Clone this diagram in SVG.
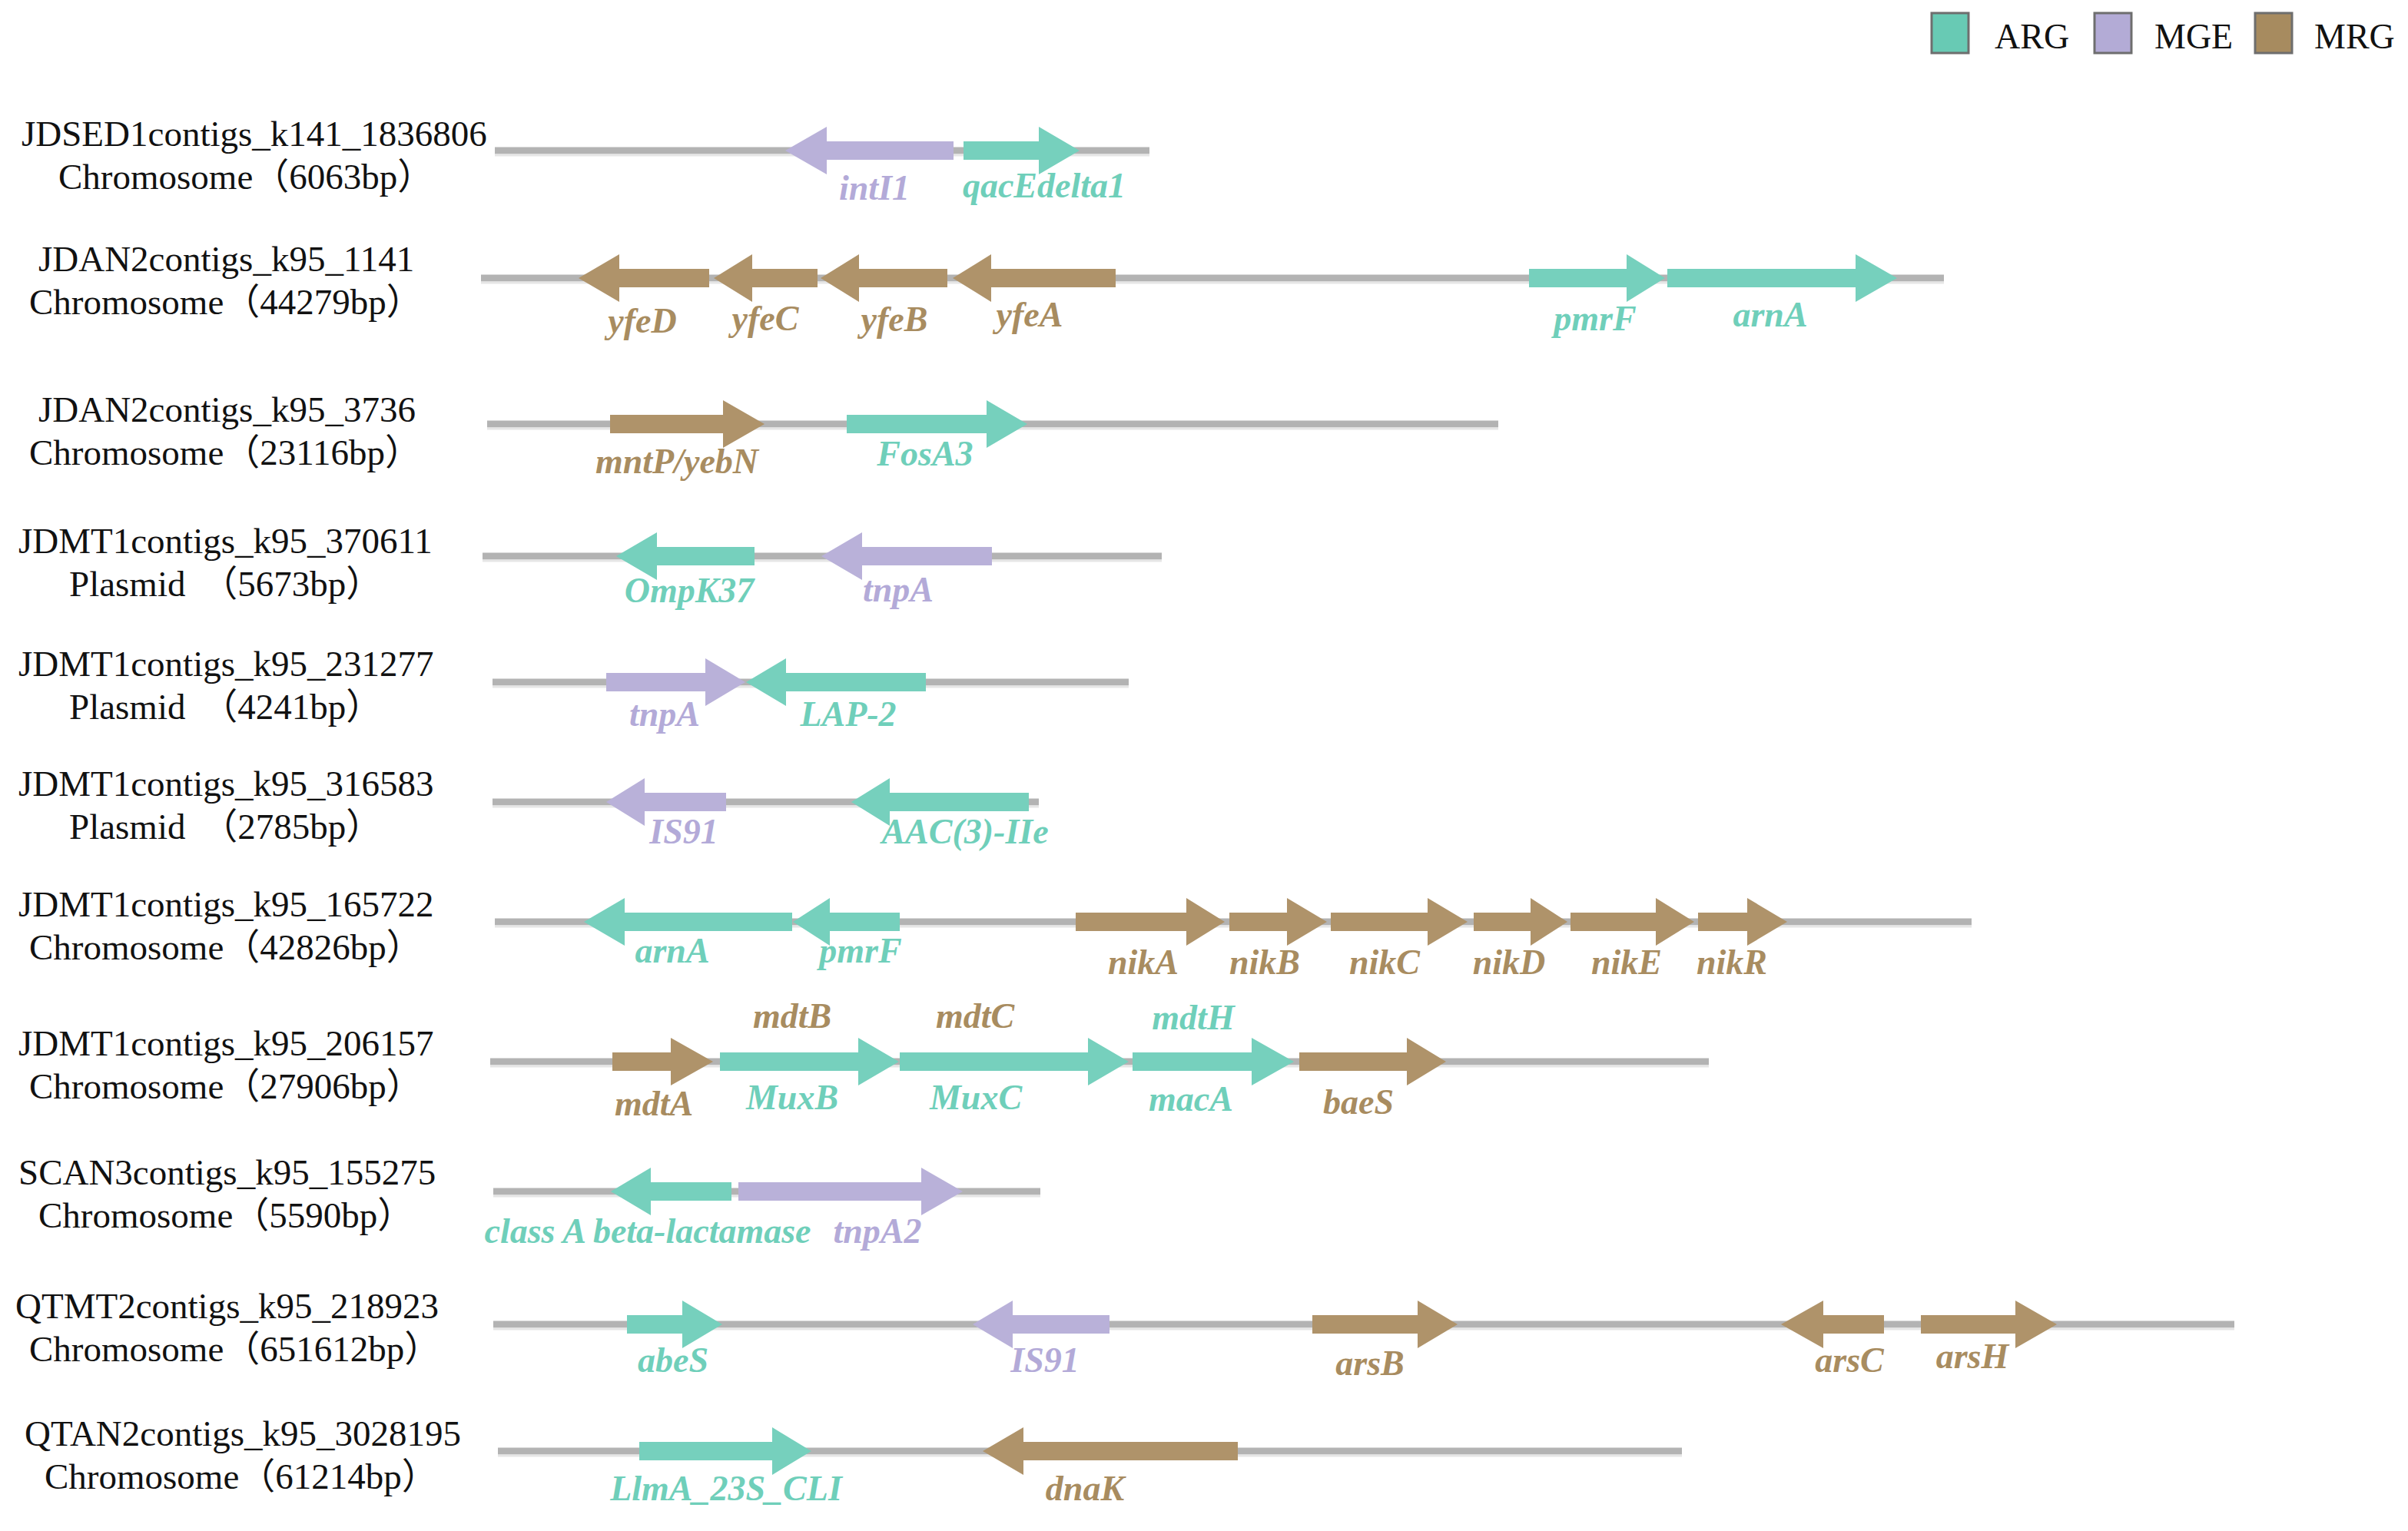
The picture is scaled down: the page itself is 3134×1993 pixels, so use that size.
<svg xmlns="http://www.w3.org/2000/svg" width="3134" height="1993" viewBox="0 0 3134 1993">
<style>
.bg{fill:#ffffff}
.ln{stroke:#b3b3b3;stroke-width:9;fill:none}
.ln2{stroke:#e6e6e6;stroke-width:3;fill:none}
.arg{fill:#76d0bd}
.mge{fill:#b9b1d9}
.mrg{fill:#af936a}
.t{font-family:'Liberation Serif','Noto Sans CJK SC',serif;font-size:47px;fill:#111111}
.lg{font-family:'Liberation Serif',serif;font-size:46px;fill:#111111}
.g{font-family:'Liberation Serif',serif;font-size:46px;font-style:italic;font-weight:bold;text-anchor:middle}
.ga{fill:#6fcfba}
.gm{fill:#b3aad8}
.gr{fill:#a88c60}
.lb{stroke:#6e6e6e;stroke-width:3}
</style>
<rect class="bg" x="0" y="0" width="3134" height="1993"/>

<g id="legend">
  <rect class="lb" x="2514" y="17" width="48" height="52" fill="#68cab4"/>
  <text class="lg" x="2596" y="63">ARG</text>
  <rect class="lb" x="2726" y="17" width="48" height="52" fill="#b3abd6"/>
  <text class="lg" x="2804" y="63">MGE</text>
  <rect class="lb" x="2935" y="17" width="48" height="52" fill="#a78b5f"/>
  <text class="lg" x="3012" y="63">MRG</text>
</g>

<g id="connectors"></g>

<g id="row1">
  <text class="t" x="28" y="190">JDSED1contigs_k141_1836806</text>
  <text class="t" x="76" y="246">Chromosome（6063bp）</text>
  <line class="ln" x1="644" y1="196" x2="1496" y2="196"/>
  <line class="ln2" x1="644" y1="202" x2="1496" y2="202"/>
  <polygon class="mge" points="1241,184 1076,184 1076,165 1022,196 1076,227 1076,208 1241,208"/>
  <polygon class="arg" points="1254,184 1352,184 1352,165 1405,196 1352,227 1352,208 1254,208"/>
  <text class="g gm" x="1138" y="260">intI1</text>
  <text class="g ga" x="1359" y="257">qacEdelta1</text>
</g>

<g id="row2">
  <text class="t" x="50" y="353">JDAN2contigs_k95_1141</text>
  <text class="t" x="38" y="409">Chromosome（44279bp）</text>
  <line class="ln" x1="626" y1="362" x2="2530" y2="362"/>
  <line class="ln2" x1="626" y1="368" x2="2530" y2="368"/>
  <polygon class="mrg" points="923,350 806,350 806,331 753,362 806,393 806,374 923,374"/>
  <polygon class="mrg" points="1064,350 979,350 979,331 929,362 979,393 979,374 1064,374"/>
  <polygon class="mrg" points="1233,350 1118,350 1118,331 1068,362 1118,393 1118,374 1233,374"/>
  <polygon class="mrg" points="1452,350 1290,350 1290,331 1240,362 1290,393 1290,374 1452,374"/>
  <polygon class="arg" points="1990,350 2117,350 2117,331 2167,362 2117,393 2117,374 1990,374"/>
  <polygon class="arg" points="2170,350 2415,350 2415,331 2469,362 2415,393 2415,374 2170,374"/>
  <text class="g gr" x="836" y="433">yfeD</text>
  <text class="g gr" x="996" y="430">yfeC</text>
  <text class="g gr" x="1164" y="431">yfeB</text>
  <text class="g gr" x="1340" y="425">yfeA</text>
  <text class="g ga" x="2076" y="430">pmrF</text>
  <text class="g ga" x="2304" y="425">arnA</text>
</g>

<g id="row3">
  <text class="t" x="50" y="549">JDAN2contigs_k95_3736</text>
  <text class="t" x="38" y="605">Chromosome（23116bp）</text>
  <line class="ln" x1="634" y1="552" x2="1950" y2="552"/>
  <line class="ln2" x1="634" y1="558" x2="1950" y2="558"/>
  <polygon class="mrg" points="794,540 941,540 941,521 995,552 941,583 941,564 794,564"/>
  <polygon class="arg" points="1102,540 1284,540 1284,521 1337,552 1284,583 1284,564 1102,564"/>
  <text class="g gr" x="881" y="616">mntP/yebN</text>
  <text class="g ga" x="1204" y="606">FosA3</text>
</g>

<g id="row4">
  <text class="t" x="24" y="720">JDMT1contigs_k95_370611</text>
  <text class="t" x="90" y="776">Plasmid <tspan dx="9">（5673bp）</tspan></text>
  <line class="ln" x1="628" y1="724" x2="1512" y2="724"/>
  <line class="ln2" x1="628" y1="730" x2="1512" y2="730"/>
  <polygon class="arg" points="982,712 855,712 855,693 802,724 855,755 855,736 982,736"/>
  <polygon class="mge" points="1291,712 1122,712 1122,693 1069,724 1122,755 1122,736 1291,736"/>
  <text class="g ga" x="897" y="784">OmpK37</text>
  <text class="g gm" x="1169" y="783">tnpA</text>
</g>

<g id="row5">
  <text class="t" x="24" y="880">JDMT1contigs_k95_231277</text>
  <text class="t" x="90" y="936">Plasmid <tspan dx="9">（4241bp）</tspan></text>
  <line class="ln" x1="641" y1="888" x2="1469" y2="888"/>
  <line class="ln2" x1="641" y1="894" x2="1469" y2="894"/>
  <polygon class="mge" points="789,876 918,876 918,857 970,888 918,919 918,900 789,900"/>
  <polygon class="arg" points="1205,876 1023,876 1023,857 971,888 1023,919 1023,900 1205,900"/>
  <text class="g gm" x="865" y="945">tnpA</text>
  <text class="g ga" x="1104" y="945">LAP-2</text>
</g>

<g id="row6">
  <text class="t" x="24" y="1036">JDMT1contigs_k95_316583</text>
  <text class="t" x="90" y="1092">Plasmid <tspan dx="9">（2785bp）</tspan></text>
  <line class="ln" x1="641" y1="1044" x2="1352" y2="1044"/>
  <line class="ln2" x1="641" y1="1050" x2="1352" y2="1050"/>
  <polygon class="mge" points="945,1032 839,1032 839,1013 789,1044 839,1075 839,1056 945,1056"/>
  <polygon class="arg" points="1339,1032 1158,1032 1158,1013 1108,1044 1158,1075 1158,1056 1339,1056"/>
  <text class="g gm" x="890" y="1098">IS91</text>
  <text class="g ga" x="1256" y="1098">AAC(3)-IIe</text>
</g>

<g id="row7">
  <text class="t" x="24" y="1193">JDMT1contigs_k95_165722</text>
  <text class="t" x="38" y="1249">Chromosome（42826bp）</text>
  <line class="ln" x1="644" y1="1200" x2="2566" y2="1200"/>
  <line class="ln2" x1="644" y1="1206" x2="2566" y2="1206"/>
  <polygon class="arg" points="1031,1188 813,1188 813,1169 760,1200 813,1231 813,1212 1031,1212"/>
  <polygon class="arg" points="1171,1188 1080,1188 1080,1169 1032,1200 1080,1231 1080,1212 1171,1212"/>
  <polygon class="mrg" points="1400,1188 1544,1188 1544,1169 1594,1200 1544,1231 1544,1212 1400,1212"/>
  <polygon class="mrg" points="1600,1188 1675,1188 1675,1169 1727,1200 1675,1231 1675,1212 1600,1212"/>
  <polygon class="mrg" points="1732,1188 1858,1188 1858,1169 1910,1200 1858,1231 1858,1212 1732,1212"/>
  <polygon class="mrg" points="1918,1188 1992,1188 1992,1169 2040,1200 1992,1231 1992,1212 1918,1212"/>
  <polygon class="mrg" points="2044,1188 2155,1188 2155,1169 2205,1200 2155,1231 2155,1212 2044,1212"/>
  <polygon class="mrg" points="2210,1188 2274,1188 2274,1169 2326,1200 2274,1231 2274,1212 2210,1212"/>
  <text class="g ga" x="875" y="1253">arnA</text>
  <text class="g ga" x="1120" y="1253">pmrF</text>
  <text class="g gr" x="1488" y="1268">nikA</text>
  <text class="g gr" x="1646" y="1268">nikB</text>
  <text class="g gr" x="1802" y="1268">nikC</text>
  <text class="g gr" x="1964" y="1268">nikD</text>
  <text class="g gr" x="2117" y="1268">nikE</text>
  <text class="g gr" x="2254" y="1268">nikR</text>
</g>

<g id="row8">
  <text class="t" x="24" y="1374">JDMT1contigs_k95_206157</text>
  <text class="t" x="38" y="1430">Chromosome（27906bp）</text>
  <line class="ln" x1="638" y1="1382" x2="2224" y2="1382"/>
  <line class="ln2" x1="638" y1="1388" x2="2224" y2="1388"/>
  <polygon class="mrg" points="797,1370 873,1370 873,1351 928,1382 873,1413 873,1394 797,1394"/>
  <polygon class="arg" points="937,1370 1117,1370 1117,1351 1170,1382 1117,1413 1117,1394 937,1394"/>
  <polygon class="arg" points="1171,1370 1416,1370 1416,1351 1469,1382 1416,1413 1416,1394 1171,1394"/>
  <polygon class="arg" points="1474,1370 1629,1370 1629,1351 1684,1382 1629,1413 1629,1394 1474,1394"/>
  <polygon class="mrg" points="1691,1370 1831,1370 1831,1351 1882,1382 1831,1413 1831,1394 1691,1394"/>
  <text class="g gr" x="1031" y="1338">mdtB</text>
  <text class="g gr" x="1269" y="1338">mdtC</text>
  <text class="g ga" x="1553" y="1340">mdtH</text>
  <text class="g gr" x="851" y="1452">mdtA</text>
  <text class="g ga" x="1031" y="1444">MuxB</text>
  <text class="g ga" x="1270" y="1444">MuxC</text>
  <text class="g ga" x="1550" y="1446">macA</text>
  <text class="g gr" x="1768" y="1450">baeS</text>
</g>

<g id="row9">
  <text class="t" x="24" y="1542">SCAN3contigs_k95_155275</text>
  <text class="t" x="50" y="1598">Chromosome（5590bp）</text>
  <line class="ln" x1="642" y1="1551" x2="1354" y2="1551"/>
  <line class="ln2" x1="642" y1="1557" x2="1354" y2="1557"/>
  <polygon class="arg" points="952,1539 847,1539 847,1520 795,1551 847,1582 847,1563 952,1563"/>
  <polygon class="mge" points="961,1539 1199,1539 1199,1520 1253,1551 1199,1582 1199,1563 961,1563"/>
  <text class="g ga" x="843" y="1618">class A beta-lactamase</text>
  <text class="g gm" x="1142" y="1618">tnpA2</text>
</g>

<g id="row10">
  <text class="t" x="20" y="1716">QTMT2contigs_k95_218923</text>
  <text class="t" x="38" y="1772">Chromosome（651612bp）</text>
  <line class="ln" x1="642" y1="1724" x2="2908" y2="1724"/>
  <line class="ln2" x1="642" y1="1730" x2="2908" y2="1730"/>
  <polygon class="arg" points="816,1712 888,1712 888,1693 940,1724 888,1755 888,1736 816,1736"/>
  <polygon class="mge" points="1444,1712 1318,1712 1318,1693 1266,1724 1318,1755 1318,1736 1444,1736"/>
  <polygon class="mrg" points="1708,1712 1845,1712 1845,1693 1897,1724 1845,1755 1845,1736 1708,1736"/>
  <polygon class="mrg" points="2452,1712 2373,1712 2373,1693 2318,1724 2373,1755 2373,1736 2452,1736"/>
  <polygon class="mrg" points="2500,1712 2623,1712 2623,1693 2677,1724 2623,1755 2623,1736 2500,1736"/>
  <text class="g ga" x="876" y="1786">abeS</text>
  <text class="g gm" x="1360" y="1786">IS91</text>
  <text class="g gr" x="1783" y="1790">arsB</text>
  <text class="g gr" x="2407" y="1786">arsC</text>
  <text class="g gr" x="2567" y="1781">arsH</text>
</g>

<g id="row11">
  <text class="t" x="32" y="1882">QTAN2contigs_k95_3028195</text>
  <text class="t" x="58" y="1938">Chromosome（61214bp）</text>
  <line class="ln" x1="648" y1="1889" x2="2189" y2="1889"/>
  <line class="ln2" x1="648" y1="1895" x2="2189" y2="1895"/>
  <polygon class="arg" points="832,1877 1005,1877 1005,1858 1056,1889 1005,1920 1005,1901 832,1901"/>
  <polygon class="mrg" points="1611,1877 1332,1877 1332,1858 1279,1889 1332,1920 1332,1901 1611,1901"/>
  <text class="g ga" x="945" y="1953">LlmA_23S_CLI</text>
  <text class="g gr" x="1412" y="1953">dnaK</text>
</g>
</svg>
